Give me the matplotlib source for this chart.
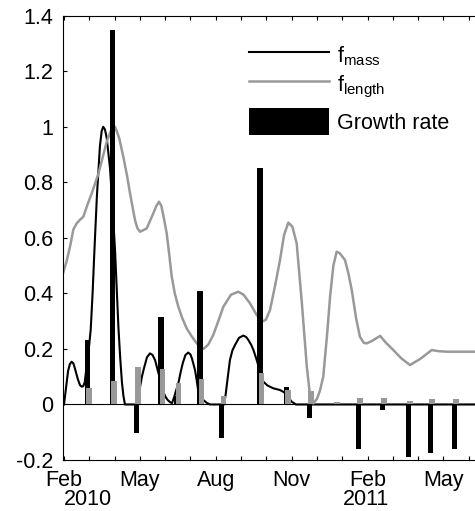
import matplotlib
matplotlib.use("Agg")
import matplotlib.pyplot as plt
from matplotlib.ticker import FixedLocator, FormatStrFormatter
import matplotlib.transforms as mtransforms

plt.rcParams['font.family'] = ['Liberation Sans', 'DejaVu Sans']
plt.rcParams['mathtext.fontset'] = 'custom'
plt.rcParams['mathtext.rm'] = 'Liberation Sans'
plt.rcParams['axes.unicode_minus'] = False

# x in months since Feb 2010
month_labels = ['Feb', 'May', 'Aug', 'Nov', 'Feb', 'May']
month_label_pos = [0, 3, 6, 9, 12, 15]
year_labels = ['2010', '2011']
year_label_pos = [0.96, 11.93]

# growth rate bars (black) and the small grey bars next to them
bar_pos = [0.94, 1.92, 2.87, 3.84, 4.47, 5.38, 6.24, 7.75, 8.80, 9.71,
           10.73, 11.65, 12.58, 13.63, 14.49, 15.44]
growth_rate = [0.232, 1.35, -0.104, 0.316, 0.03, 0.41, -0.12, 0.85, 0.062,
               -0.05, 0.0, -0.161, -0.02, -0.19, -0.174, -0.161]
grey_bar = [0.06, 0.085, 0.135, 0.128, 0.079, 0.09, 0.031, 0.115, 0.052,
            0.048, 0.01, 0.025, 0.025, 0.013, 0.019, 0.019]

# f_mass curve
mass_t = [0, 0.04, 0.08, 0.16, 0.23, 0.30, 0.37, 0.43, 0.55, 0.63, 0.70,
          0.76, 0.82, 0.91, 0.98, 1.056, 1.13, 1.20, 1.30, 1.42, 1.49, 1.55,
          1.62, 1.688, 1.76, 1.82, 1.94, 2.02, 2.15, 2.22, 2.29, 2.35, 2.41,
          2.89, 2.95, 3.0, 3.08, 3.16, 3.28, 3.40, 3.5, 3.6, 3.7, 3.80, 3.88,
          3.95, 4.03, 4.11, 4.2, 4.27, 4.35, 4.43, 4.52, 4.62, 4.70, 4.8,
          4.91, 5.0, 5.06, 5.18, 5.25, 5.31, 5.4, 5.51, 5.64, 5.77,
          6.33, 6.39, 6.45, 6.56, 6.66, 6.76, 6.92, 7.09, 7.2, 7.29, 7.4,
          7.49, 7.62, 7.75, 7.88, 8.05, 8.28, 8.54, 8.68, 8.79, 8.9, 9.0,
          9.17, 16.3]
mass_v = [0, 0.03, 0.06, 0.12, 0.145, 0.154, 0.148, 0.13, 0.09, 0.07, 0.064,
          0.066, 0.08, 0.15, 0.2, 0.27, 0.4, 0.55, 0.75, 0.93, 0.985, 1.0,
          0.99, 0.96, 0.9, 0.85, 0.68, 0.55, 0.28, 0.17, 0.08, 0.03, 0.0,
          0.0, 0.03, 0.06, 0.1, 0.13, 0.17, 0.184, 0.178, 0.16, 0.125, 0.09, 0.06,
          0.04, 0.025, 0.015, 0.008, 0.005, 0.025, 0.05, 0.076, 0.12, 0.15, 0.178,
          0.187, 0.18, 0.165, 0.124, 0.085, 0.046, 0.025, 0.016, 0.006, 0.0,
          0.0, 0.035, 0.08, 0.16, 0.195, 0.214, 0.24, 0.248, 0.243, 0.232, 0.215,
          0.196, 0.16, 0.118, 0.082, 0.068, 0.058, 0.052, 0.045, 0.038, 0.022, 0.01,
          0.0, 0.0]

# f_length curve
length_t = [-0.04, 0.1, 0.237, 0.37, 0.50, 0.63, 0.763, 0.93, 1.095, 1.356,
            1.5, 1.688, 1.85, 2.017, 2.18, 2.345, 2.5, 2.61, 2.807, 2.9, 3.005,
            3.27, 3.53, 3.65, 3.756, 3.85, 3.95, 4.06, 4.16, 4.26, 4.38, 4.52,
            4.68, 4.85, 5.05, 5.25, 5.51, 5.7, 5.90, 6.1, 6.3, 6.6, 6.89, 7.1,
            7.355, 7.6, 7.82, 7.98, 8.145, 8.35, 8.54, 8.7, 8.87, 9.03, 9.2,
            9.4, 9.6, 9.73, 9.86, 10.0, 10.12, 10.25, 10.4, 10.52, 10.65, 10.78,
            10.9, 11.11, 11.25, 11.38, 11.55, 11.70, 11.85, 11.97, 12.2, 12.50,
            12.7, 13.02, 13.35, 13.68, 14.1, 14.54, 14.8, 15.13, 16.3]
length_v = [0.472, 0.515, 0.568, 0.63, 0.652, 0.665, 0.676, 0.72, 0.76, 0.83,
            0.88, 0.946, 0.985, 1.0, 0.96, 0.892, 0.82, 0.76, 0.664, 0.635, 0.622,
            0.634, 0.688, 0.715, 0.73, 0.715, 0.67, 0.616, 0.54, 0.46, 0.40, 0.352,
            0.31, 0.274, 0.245, 0.22, 0.2, 0.215, 0.25, 0.3, 0.352, 0.395, 0.406, 0.395,
            0.364, 0.325, 0.298, 0.305, 0.34, 0.43, 0.52, 0.61, 0.655, 0.64, 0.58,
            0.37, 0.136, 0.03, 0.004, 0.02, 0.05, 0.1, 0.25, 0.388, 0.5, 0.55,
            0.545, 0.52, 0.47, 0.41, 0.31, 0.244, 0.222, 0.22, 0.23, 0.247,
            0.225, 0.196, 0.165, 0.142, 0.165, 0.196, 0.192, 0.19, 0.19]

grey = '#999999'
W, H = 475, 511
fig = plt.figure(figsize=(W / 100, H / 100), dpi=100)
ax = fig.add_axes([63 / W, 51 / H, 1 - 63 / W, 444.3 / H])

ax.axhline(0, color='black', lw=0.8, zorder=1)
l1, = ax.plot(mass_t, mass_v, color='black', lw=1.5, label=r'f$_{\mathrm{mass}}$',
              zorder=2, solid_joinstyle='round')
l2, = ax.plot(length_t, length_v, color=grey, lw=1.8, label=r'f$_{\mathrm{length}}$',
              zorder=2, solid_joinstyle='round')
bars = ax.bar(bar_pos, growth_rate, width=0.21, color='black', label='Growth rate', zorder=3)
ax.bar([p + 0.06 for p in bar_pos], grey_bar, width=0.225, color=grey, zorder=4)

ax.set_xlim(-0.04, 16.25)
ax.set_ylim(-0.2, 1.4)
ax.yaxis.set_major_locator(FixedLocator([-0.2, 0, 0.2, 0.4, 0.6, 0.8, 1.0, 1.2, 1.4]))
ax.yaxis.set_major_formatter(FormatStrFormatter('%g'))
ax.set_xticks(month_label_pos)
ax.set_xticklabels(month_labels)
ax.set_xticks(range(0, 17), minor=True)
ax.tick_params(axis='both', which='both', direction='in', length=3, width=0.8,
               top=True, right=False, labelsize=15.5)
ax.tick_params(axis='x', pad=7)
ax.tick_params(axis='y', pad=7)
ax.spines['right'].set_visible(False)

trans = mtransforms.blended_transform_factory(ax.transData, fig.transFigure)
for lab, pos in zip(year_labels, year_label_pos):
    ax.text(pos, 6 / H, lab, transform=trans, ha='center', va='baseline',
            fontsize=15.5, clip_on=False)

leg_kw = dict(loc='upper left', bbox_transform=fig.transFigure, frameon=False,
              fontsize=15.5, handlelength=3.7, handleheight=1.6,
              handletextpad=0.37, labelspacing=0.05, borderpad=0,
              borderaxespad=0)
leg1 = ax.legend(handles=[l1, l2], bbox_to_anchor=(249 / W, 1 - 42 / H), **leg_kw)
ax.add_artist(leg1)
ax.legend(handles=[bars], bbox_to_anchor=(249 / W, 1 - 107.7 / H), **leg_kw)

fig.savefig('out.png', dpi=100)
